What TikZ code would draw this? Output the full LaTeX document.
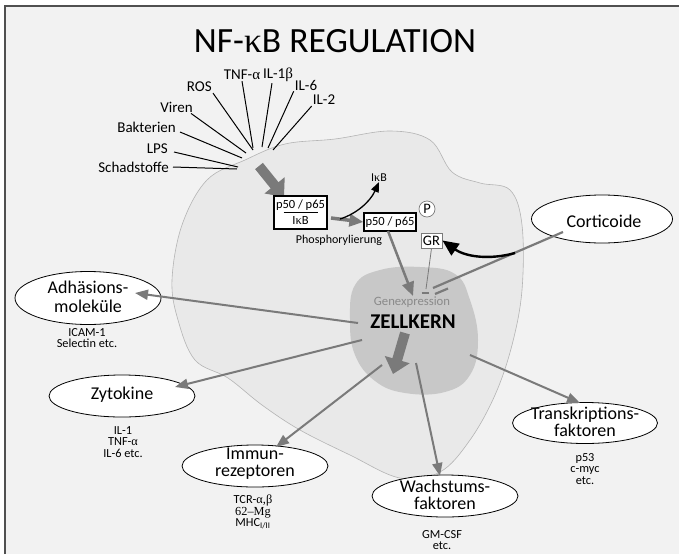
\documentclass[tikz,border=0pt]{standalone}
\usepackage{fontspec}
\setmainfont{Carlito}
\newfontfamily\grk{Liberation Serif}
\usetikzlibrary{arrows.meta,shapes.geometric}
\definecolor{bgc}{HTML}{F2F2F2}
\definecolor{cellfill}{HTML}{E9E9E9}
\definecolor{cellline}{HTML}{B4B4B4}
\definecolor{nucfill}{HTML}{C8C8C8}
\definecolor{arrg}{HTML}{7A7A7A}
\definecolor{framec}{HTML}{505050}
\definecolor{genc}{HTML}{8A8A8A}
\begin{document}
\begin{tikzpicture}[x=1pt,y=-1pt,
  stim/.style={inner sep=1pt, font=\fontsize{15}{15}\selectfont},
  stimline/.style={line width=1pt, black},
  outer/.style={ellipse, draw=black, fill=white, line width=0.8pt, inner sep=0pt},
  otext/.style={align=center, inner sep=0pt, font=\fontsize{18}{17}\selectfont},
  sub/.style={align=center, inner sep=0pt, font=\fontsize{12.3}{11.5}\selectfont},
  bigarrow/.style={draw=arrg, line width=10pt, -{Triangle[width=25pt,length=15pt]}},
  midarrow/.style={draw=arrg, line width=3.5pt, -{Triangle[width=12pt,length=14pt]}},
  grayarrow/.style={draw=arrg, line width=2pt, -{Triangle[width=10pt,length=13pt]}},
  boxtext/.style={inner sep=0pt, font=\fontsize{12.5}{12.5}\selectfont}
]
\useasboundingbox (0,0) rectangle (679,554);
\fill[white] (0,0) rectangle (679,554);
\fill[bgc] (5,6) rectangle (679,554);
\draw[framec, line width=1.5pt] (5,554) -- (5,6) -- (679,6);

% cell
\draw[cellline, fill=cellfill, line width=0.6pt] plot[smooth cycle, tension=0.6] coordinates {
 (207,180) (245,160) (285,144) (335,139) (390,131) (430,140) (452,172) (480,183)
 (510,190) (522,225) (522,290) (512,345) (495,395) (470,440) (440,472) (400,478)
 (350,455) (300,430) (262,405) (228,378) (195,360) (178,320) (172,280) (182,225)};

% nucleus
\fill[nucfill] plot[smooth cycle, tension=0.7] coordinates {
 (355,285) (380,270) (420,267) (455,274) (470,300) (478,340) (470,375)
 (445,392) (405,393) (375,381) (355,355) (350,320)};

% title
\node[inner sep=0pt, font=\fontsize{35.5}{35.5}\selectfont] (title) at (335,41) {NF-{\grk κ}B REGULATION};

% stimuli
\coordinate (c1) at (237,169);
\coordinate (c2) at (238,167);
\coordinate (c3) at (242,158);
\coordinate (c4) at (246,153);
\coordinate (c5) at (253,150);
\coordinate (c6) at (253,148);
\coordinate (c7) at (262,147);
\coordinate (c8) at (268,148);
\coordinate (c9) at (273,150);
\node[stim, anchor=east] (schad) at (170,167) {Schadstoffe};
\node[stim, anchor=east] (lps) at (169,149) {LPS};
\node[stim, anchor=east] (bakt) at (177,127) {Bakterien};
\node[stim, anchor=east] (viren) at (194,107) {Viren};
\node[stim, anchor=east] (ros) at (213,87) {ROS};
\node[stim] (tnf) at (242,75) {TNF-{\grk α}};
\node[stim] (il1) at (278,75) {IL-1{\grk β}};
\node[stim] (il6) at (306,85) {IL-6};
\node[stim] (il2) at (324,100) {IL-2};
\draw[stimline] ([xshift=3pt]schad.east) -- (c1);
\draw[stimline] ([xshift=5pt,yshift=-3pt]lps.east) -- (c2);
\draw[stimline] ([xshift=3pt,yshift=-5pt]bakt.east) -- (c3);
\draw[stimline] ([xshift=-3pt]viren.south east) -- (c4);
\draw[stimline] (ros.south east) -- (c5);
\draw[stimline] (tnf.south) -- (c6);
\draw[stimline] ([xshift=-6pt]il1.south) -- (c7);
\draw[stimline] (il6.south west) -- (c8);
\draw[stimline] (il2.south west) -- (c9);

% big arrow into cell
\coordinate (ba1) at (259,166);
\coordinate (ba2) at (284,197);
\draw[bigarrow] (ba1) -- (ba2);

% box 1
\node[draw=black, fill=white, line width=1.2pt, minimum width=53pt, minimum height=33pt, inner sep=0pt] (box1) at (300.5,212.5) {};
\node[boxtext] (box1a) at (300.5,205) {p50 / p65};
\node[boxtext] (box1b) at (300.5,220.5) {I{\grk κ}B};
\draw[line width=0.8pt] ([xshift=-17pt]box1.center) -- ([xshift=17pt]box1.center);

% box 2
\node[draw=black, fill=white, line width=1.2pt, minimum width=52pt, minimum height=18pt, inner sep=0pt, font=\fontsize{12.5}{12.5}\selectfont] (box2) at (390,222) {p50 / p65};
\node[inner sep=0pt, font=\fontsize{12}{12}\selectfont] (phos) at (339,240) {Phosphorylierung};
\coordinate (m1) at (331,218);
\draw[midarrow] (m1) -- (box2.west);

% IkB
\node[inner sep=0pt, font=\fontsize{12}{12}\selectfont] (ikb) at (379,178) {I{\grk κ}B};
\coordinate (k1) at (340,219);
\draw[line width=1.3pt, -{Triangle[width=8pt,length=10pt]}] (k1) .. controls (356,214) and (370,202) .. (ikb.south);

% P and GR
\node[circle, draw=arrg, fill=white, line width=0.7pt, minimum size=16pt, inner sep=0pt, font=\fontsize{14.5}{14.5}\selectfont] (p) at (427,209) {P};
\node[draw=arrg, fill=white, line width=0.9pt, minimum width=21pt, minimum height=15pt, inner sep=0pt, font=\fontsize{14.5}{14.5}\selectfont] (gr) at (431.5,240.5) {GR};
\coordinate (grend) at (426,289);
\draw[draw=arrg, line width=0.8pt] (gr.south) -- (grend);
\coordinate (grb1) at (421.5,292.5);
\coordinate (grb2) at (429,292.5);
\draw[arrg, line width=2pt] (grb1) -- (grb2);

% arrow p50/p65 to nucleus
\coordinate (pn1) at (388,231);
\coordinate (pn2) at (413,296);
\draw[draw=arrg, line width=2.5pt, -{Triangle[width=12pt,length=14pt]}] (pn1) -- (pn2);

% nucleus text
\node[inner sep=0pt, text=genc, font=\fontsize{12.7}{12.7}\selectfont] (gen) at (412,302) {Genexpression};
\node[inner sep=0pt, font=\bfseries\fontsize{21}{21}\selectfont] (zk) at (413,322) {ZELLKERN};
\coordinate (na1) at (405,333);
\coordinate (na2) at (393,374);
\draw[bigarrow] (na1) -- (na2);

% Corticoide
\node[outer, minimum width=141pt, minimum height=48pt] (cort) at (602,219) {};
\node[otext] (cortT) at (604,221) {Corticoide};
\coordinate (ci1) at (563,232);
\coordinate (ci2) at (433,288);
\draw[arrg, line width=2.2pt] (ci1) -- (ci2);
\coordinate (cb1) at (435,294);
\coordinate (cb2) at (448,288.5);
\draw[arrg, line width=2.2pt] (cb1) -- (cb2);
\coordinate (gc1) at (515,253);
\draw[line width=2.4pt, -{Triangle[width=14pt,length=16pt]}] (gc1) .. controls (490,260) and (466,257) .. (gr.east);

% outer ellipses
\node[outer, minimum width=146pt, minimum height=53pt] (adh) at (88,298) {};
\node[otext, font=\fontsize{18}{19}\selectfont] (adhT) at (88,297) {Adhäsions-\\moleküle};
\node[sub] (adhS) at (87,338) {ICAM-1\\Selectin etc.};

\node[outer, minimum width=146pt, minimum height=42pt] (zyt) at (122,396) {};
\node[otext] (zytT) at (122,395) {Zytokine};
\node[sub] (zytS) at (123,442) {IL-1\\TNF-{\grk α}\\IL-6 etc.};

\node[outer, minimum width=146pt, minimum height=42pt] (imm) at (255,466) {};
\node[otext] (immT) at (255,464) {Immun-\\rezeptoren};
\node[sub] (immS) at (253,512) {TCR-{\grk α,β}\\{\grk 62–Mg}\\MHC\textsubscript{I/II}};

\node[outer, minimum width=146pt, minimum height=42pt] (wach) at (445,496) {};
\node[otext] (wachT) at (445,495) {Wachstums-\\faktoren};
\node[sub] (wachS) at (442,540) {GM-CSF\\etc.};

\node[outer, minimum width=145pt, minimum height=41pt] (trans) at (585,423) {};
\node[otext] (transT) at (585,422) {Transkriptions-\\faktoren};
\node[sub] (transS) at (585,469) {p53\\c-myc\\etc.};

% arrows from nucleus
\coordinate (s1) at (358,323);
\coordinate (t1) at (135,293);
\coordinate (s2) at (362,340);
\coordinate (t2) at (175,387);
\coordinate (s3) at (382,365);
\coordinate (t3) at (276,447);
\coordinate (s4) at (416,363);
\coordinate (t4) at (440,476);
\coordinate (s5) at (470,355);
\coordinate (t5) at (580,403);
\draw[grayarrow] (s1) -- (t1);
\draw[grayarrow] (s2) -- (t2);
\draw[grayarrow] (s3) -- (t3);
\draw[grayarrow] (s4) -- (t4);
\draw[grayarrow] (s5) -- (t5);
\end{tikzpicture}
\end{document}
